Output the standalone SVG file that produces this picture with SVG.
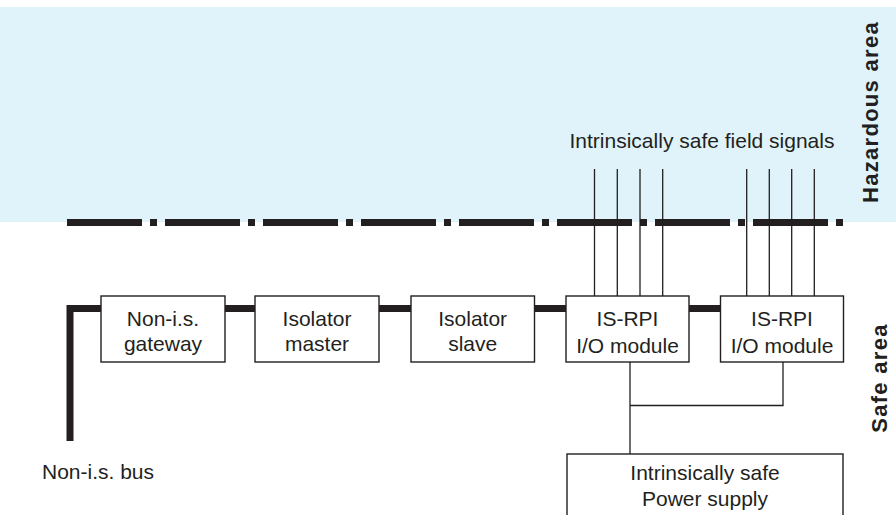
<svg xmlns="http://www.w3.org/2000/svg" width="896" height="515" viewBox="0 0 896 515">
<style>
.box{fill:#fff;stroke:#231f20;stroke-width:1.4}
.t{font-family:"Liberation Sans",Arial,sans-serif;font-size:21px;fill:#231f20;text-anchor:middle}
.zone{font-family:"Liberation Sans",Arial,sans-serif;font-size:22px;font-weight:bold;fill:#231f20;text-anchor:middle;letter-spacing:1.3px}
.thin{fill:none;stroke:#231f20;stroke-width:1.3}
</style>
<rect x="0" y="7" width="896" height="215" fill="#e0f3fa"/>
<line x1="67" y1="222.5" x2="845" y2="222.5" stroke="#231f20" stroke-width="7" stroke-dasharray="75 8 7 8"/>
<text class="t" x="702" y="148">Intrinsically safe field signals</text>
<text class="zone" transform="translate(878,112) rotate(-90)">Hazardous area</text>
<text class="zone" transform="translate(887,378) rotate(-90)">Safe area</text>
<text class="t" x="42" y="479" style="text-anchor:start">Non-i.s. bus</text>
<g id="connectors">
<path d="M70,441 V308.5 H720" fill="none" stroke="#231f20" stroke-width="7"/>
<path class="thin" d="M594.5,169 V296 M617.3,169 V296 M640,169 V296 M662.7,169 V296 M746.7,169 V296 M769.3,169 V296 M791.7,169 V296 M814.3,169 V296"/>
<path class="thin" d="M630,362 V454 M630,405.5 H783 V362"/>
</g>
<g id="gateway"><rect class="box" x="101" y="296" width="124" height="66"/><text class="t" x="163" y="326">Non-i.s.</text><text class="t" x="163" y="351">gateway</text></g>
<g id="isolator-master"><rect class="box" x="255" y="296" width="124" height="66"/><text class="t" x="317" y="326">Isolator</text><text class="t" x="317" y="351">master</text></g>
<g id="isolator-slave"><rect class="box" x="411" y="296" width="123.5" height="66"/><text class="t" x="472.7" y="326">Isolator</text><text class="t" x="472.7" y="351">slave</text></g>
<g id="isrpi-1"><rect class="box" x="566" y="296" width="123" height="66"/><text class="t" x="627.5" y="326">IS-RPI</text><text class="t" x="627.5" y="353">I/O module</text></g>
<g id="isrpi-2"><rect class="box" x="720.5" y="296" width="123" height="66"/><text class="t" x="782" y="326">IS-RPI</text><text class="t" x="782" y="353">I/O module</text></g>
<g id="power-supply"><rect class="box" x="567" y="454" width="276" height="70"/><text class="t" x="705" y="480">Intrinsically safe</text><text class="t" x="705" y="506">Power supply</text></g>
</svg>
